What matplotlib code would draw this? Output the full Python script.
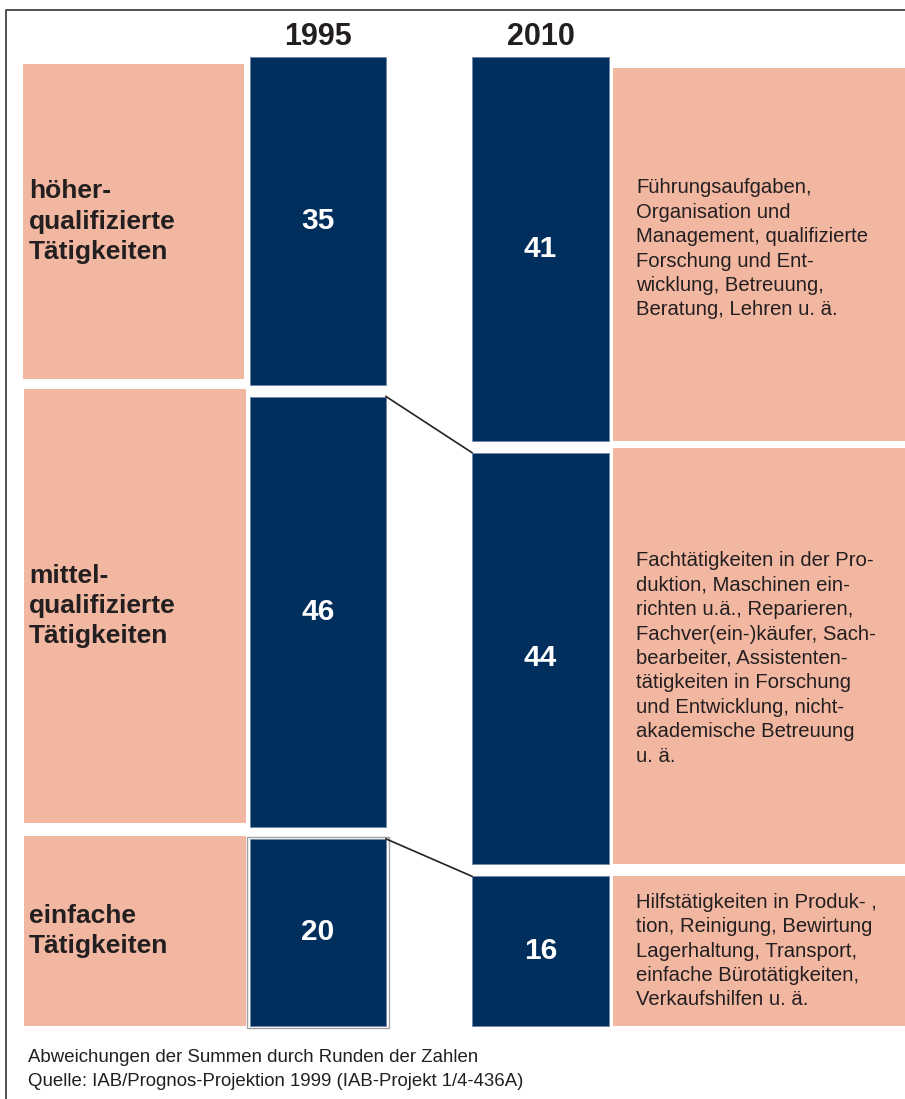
import numpy as np
import matplotlib.pyplot as plt
from matplotlib.patches import Rectangle

# data (shares of jobs in %, listed bottom to top)
years = ['1995', '2010']
levels = ['einfache\nTätigkeiten',
          'mittel-\nqualifizierte\nTätigkeiten',
          'höher-\nqualifizierte\nTätigkeiten']
shares_1995 = [20, 46, 35]
shares_2010 = [16, 44, 41]
descriptions = [
    'Hilfstätigkeiten in Produk- ,\ntion, Reinigung, Bewirtung\nLagerhaltung, Transport,\n'
    'einfache Bürotätigkeiten,\nVerkaufshilfen u. ä.',
    'Fachtätigkeiten in der Pro-\nduktion, Maschinen ein-\nrichten u.ä., Reparieren,\n'
    'Fachver(ein-)käufer, Sach-\nbearbeiter, Assistenten-\ntätigkeiten in Forschung\n'
    'und Entwicklung, nicht-\nakademische Betreuung\nu. ä.',
    'Führungsaufgaben,\nOrganisation und\nManagement, qualifizierte\nForschung und Ent-\n'
    'wicklung, Betreuung,\nBeratung, Lehren u. ä.',
]
notes = ['Abweichungen der Summen durch Runden der Zahlen',
         'Quelle: IAB/Prognos-Projektion 1999 (IAB-Projekt 1/4-436A)']

NAVY = '#002e5d'
PINK = '#f2b7a1'
TEXT = '#231f20'

plt.rcParams['font.family'] = ['Liberation Sans', 'DejaVu Sans']

PX = 9.356     # pixels per percentage point
BASE = 1026    # pixel row where the bars start
GAP = 12 / PX  # white gap between stacked segments


def yv(px):
    """pixel row -> value units"""
    return (BASE - px) / PX


def stack(vals):
    bottoms = []
    b = 0
    for v in vals:
        bottoms.append(b)
        b += v + GAP
    return np.array(bottoms)


fig = plt.figure(figsize=(9.05, 10.99), dpi=100)
ax = fig.add_axes([0, 0, 1, 1])
ax.set_xlim(0, 905)
ax.set_ylim(yv(1099), yv(0))
ax.axis('off')

# outer frame
ax.plot([6, 6, 905], [yv(1099), yv(10), yv(10)], color='#333333', lw=1.2, clip_on=False)

# pink label boxes (x0, x1, top px, bottom px), bottom to top
left_boxes = [(24, 246, 836, 1026), (24, 246, 389, 823), (23, 244, 64, 379)]
right_boxes = [(613, 905, 876, 1026), (613, 905, 448, 864), (613, 905, 68, 441)]
for x0, x1, t, b in left_boxes + right_boxes:
    ax.add_patch(Rectangle((x0, yv(b)), x1 - x0, yv(t) - yv(b), color=PINK, lw=0))

# stacked bars
x_bars = [318, 540.5]
b95 = stack(shares_1995)
b10 = stack(shares_2010)
ax.bar(x_bars[0], shares_1995, bottom=b95, width=136, color=NAVY, edgecolor='#7088a8', linewidth=0.6)
ax.bar(x_bars[1], shares_2010, bottom=b10, width=137, color=NAVY, edgecolor='#7088a8', linewidth=0.6)

# grey outline round the lowest 1995 segment
ax.add_patch(Rectangle((247, b95[0] - 0.2), 142, shares_1995[0] + 0.4,
                       fill=False, edgecolor='#a0a0a0', lw=1))

# connectors between segment tops
for i in range(2):
    ax.plot([x_bars[0] + 68, x_bars[1] - 68.5],
            [b95[i] + shares_1995[i], b10[i] + shares_2010[i]], color='#222222', lw=1.2)

# values in the bars
for xb, vals, bots in [(x_bars[0], shares_1995, b95), (x_bars[1], shares_2010, b10)]:
    for v, b in zip(vals, bots):
        ax.text(xb, b + v / 2, str(v), ha='center', va='center', color='white',
                fontsize=21.5, fontweight='bold')

# year headings
for xb, yr in zip(x_bars, years):
    ax.text(xb, yv(37), yr, ha='center', va='center', color=TEXT,
            fontsize=22, fontweight='bold')

# category labels left, descriptions right
for (x0, x1, t, b), lab in zip(left_boxes, levels):
    ax.text(29, yv((t + b) / 2), lab, ha='left', va='center', color=TEXT,
            fontsize=19, fontweight='bold', linespacing=1.34)

for desc, v, b in zip(descriptions, shares_2010, b10):
    ax.text(636, b + v / 2, desc, ha='left', va='center', color=TEXT,
            fontsize=14.6, linespacing=1.36)

# footnotes
ax.text(28, yv(1057), notes[0], ha='left', va='center', color=TEXT, fontsize=13.4)
ax.text(28, yv(1082), notes[1], ha='left', va='center', color=TEXT, fontsize=13.4)

fig.savefig('out.png', dpi=100)
